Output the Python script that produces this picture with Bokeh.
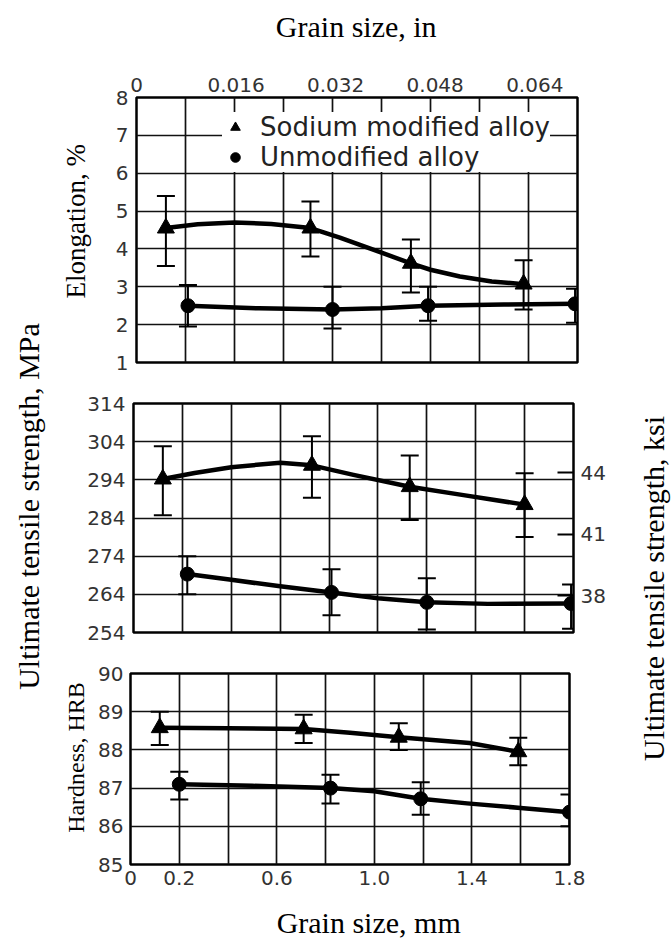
import math
from bokeh.plotting import figure
from bokeh.models import (Range1d, LinearAxis, FixedTicker, Whisker, TeeHead, Grid,
                          ColumnDataSource, Legend, LegendItem, Label)
from bokeh.layouts import row, column
from bokeh.embed import file_html
from bokeh.resources import INLINE

MM_PER_IN = 25.4

# ---------------- axes ----------------
x_range_mm = (0.0, 1.8)
x_grid_mm = [0.0, 0.2, 0.4, 0.6, 0.8, 1.0, 1.2, 1.4, 1.6, 1.8]
x_ticks_mm = [0.0, 0.2, 0.6, 1.0, 1.4, 1.8]
x_labels_mm = ["0", "0.2", "0.6", "1.0", "1.4", "1.8"]
x_ticks_in = [0.0, 0.016, 0.032, 0.048, 0.064]
x_labels_in = ["0", "0.016", "0.032", "0.048", "0.064"]

elong_range = (1, 8)
elong_ticks = [1, 2, 3, 4, 5, 6, 7, 8]
uts_range = (254, 314)
uts_ticks = [254, 264, 274, 284, 294, 304, 314]
ksi_range = (36.2, 47.37)
ksi_ticks = [38, 41, 44]
hrb_range = (85, 90)
hrb_ticks = [85, 86, 87, 88, 89, 90]

series_names = ["Sodium modified alloy", "Unmodified alloy"]

# ---------------- Elongation, % ----------------
el_na_x = [0.12, 0.71, 1.12, 1.58]
el_na_y = [4.55, 4.55, 3.62, 3.07]
el_na_hi = [5.40, 5.25, 4.25, 3.70]
el_na_lo = [3.55, 3.80, 2.85, 2.40]
el_na_fit_x = [0.12, 0.25, 0.40, 0.55, 0.71, 0.83, 1.00, 1.12, 1.20, 1.32, 1.45, 1.58]
el_na_fit_y = [4.55, 4.65, 4.70, 4.66, 4.55, 4.30, 3.90, 3.62, 3.45, 3.27, 3.14, 3.07]

el_un_x = [0.21, 0.80, 1.19, 1.79]
el_un_y = [2.50, 2.40, 2.50, 2.55]
el_un_hi = [3.05, 3.00, 3.00, 2.95]
el_un_lo = [1.95, 1.90, 2.10, 2.05]
el_un_fit_x = [0.21, 0.50, 0.80, 1.00, 1.19, 1.50, 1.79]
el_un_fit_y = [2.50, 2.43, 2.40, 2.43, 2.50, 2.53, 2.55]

# ---------------- Ultimate tensile strength, MPa ----------------
uts_na_x = [0.12, 0.73, 1.13, 1.60]
uts_na_y = [294.2, 297.8, 292.2, 287.5]
uts_na_hi = [302.8, 305.4, 300.4, 295.7]
uts_na_lo = [284.7, 289.3, 283.5, 279.0]
uts_na_fit_x = [0.12, 0.25, 0.40, 0.60, 0.73, 0.90, 1.13, 1.35, 1.60]
uts_na_fit_y = [294.2, 295.8, 297.3, 298.5, 297.8, 295.3, 292.2, 290.0, 287.5]

uts_un_x = [0.22, 0.81, 1.20, 1.79]
uts_un_y = [269.3, 264.5, 261.9, 261.6]
uts_un_hi = [274.0, 270.6, 268.2, 266.6]
uts_un_lo = [264.0, 258.5, 254.8, 255.0]
uts_un_fit_x = [0.22, 0.40, 0.60, 0.81, 1.00, 1.20, 1.45, 1.79]
uts_un_fit_y = [269.3, 267.8, 266.1, 264.5, 263.0, 261.9, 261.5, 261.6]

# ---------------- Hardness, HRB ----------------
hrb_na_x = [0.12, 0.71, 1.10, 1.59]
hrb_na_y = [88.58, 88.55, 88.33, 87.95]
hrb_na_hi = [89.00, 88.92, 88.70, 88.32]
hrb_na_lo = [88.13, 88.18, 88.00, 87.60]
hrb_na_fit_x = [0.12, 0.40, 0.71, 0.90, 1.10, 1.39, 1.59]
hrb_na_fit_y = [88.58, 88.57, 88.55, 88.45, 88.33, 88.18, 87.95]

hrb_un_x = [0.20, 0.82, 1.19, 1.80]
hrb_un_y = [87.10, 87.00, 86.72, 86.37]
hrb_un_hi = [87.43, 87.35, 87.15, 86.83]
hrb_un_lo = [86.70, 86.60, 86.30, 86.00]
hrb_un_fit_x = [0.20, 0.50, 0.82, 1.00, 1.19, 1.38, 1.60, 1.80]
hrb_un_fit_y = [87.10, 87.06, 87.00, 86.92, 86.72, 86.60, 86.48, 86.37]

# ---------------- styling ----------------
SERIF = "Liberation Serif"
SANS = "DejaVu Sans"
TICK_SIZE = "20px"
TICK_COLOR = "#333333"
PAGE_H = 939


def style_axis(ax, standoff, tick_in=0):
    ax.axis_line_color = None
    ax.major_tick_out = 0
    ax.major_tick_in = tick_in
    ax.major_tick_line_color = "black" if tick_in else None
    ax.major_tick_line_width = 2
    ax.minor_tick_line_color = None
    ax.major_label_standoff = standoff
    ax.major_label_text_font = SANS
    ax.major_label_text_font_size = TICK_SIZE
    ax.major_label_text_color = TICK_COLOR


def make_panel(width, height, bl, br, bt, bb, yr, yticks, standoff=8):
    p = figure(width=width, height=height,
               x_range=Range1d(*x_range_mm), y_range=Range1d(*yr),
               x_axis_type=None, y_axis_type=None,
               output_backend="svg", toolbar_location=None,
               min_border_left=bl, min_border_right=br,
               min_border_top=bt, min_border_bottom=bb,
               background_fill_color="white", border_fill_color="white",
               outline_line_color="black", outline_line_width=2.5)
    p.add_layout(Grid(dimension=0, ticker=FixedTicker(ticks=x_grid_mm),
                      grid_line_color="#111111", grid_line_width=1.7))
    p.add_layout(Grid(dimension=1, ticker=FixedTicker(ticks=yticks),
                      grid_line_color="#111111", grid_line_width=1.7))
    ax = LinearAxis(ticker=FixedTicker(ticks=yticks))
    style_axis(ax, standoff)
    p.add_layout(ax, "left")
    return p


def add_series(p, x, y, hi, lo, fx, fy, marker, size):
    p.line(fx, fy, line_width=4.5, line_color="black", line_join="round", line_cap="round")
    src = ColumnDataSource(dict(x=x, y=y, hi=hi, lo=lo))
    w = Whisker(source=src, base="x", upper="hi", lower="lo", dimension="height",
                line_color="black", line_width=2,
                upper_head=TeeHead(size=18, line_width=2, line_color="black"),
                lower_head=TeeHead(size=18, line_width=2, line_color="black"))
    p.add_layout(w)
    return p.scatter("x", "y", source=src, marker=marker, size=size,
                     fill_color="black", line_color="black")


def text_strip(width, height, text, cx, cy, angle, size):
    """A blank figure whose pixel-sized ranges hold one label."""
    f = figure(width=width, height=height, x_range=Range1d(0, width), y_range=Range1d(0, height),
               x_axis_type=None, y_axis_type=None, output_backend="svg", toolbar_location=None,
               min_border=0, outline_line_color=None, background_fill_color="white",
               border_fill_color="white")
    f.add_layout(Label(x=cx, y=cy, text=text, angle=angle,
                       text_align="center", text_baseline="middle", text_font=SERIF,
                       text_font_size=size, text_color="black"))
    return f


# ---------------- top panel: elongation ----------------
p1 = make_panel(518, 330, 41, 36, 45, 20, elong_range, elong_ticks)
p1.extra_x_ranges = {"in": Range1d(x_range_mm[0] / MM_PER_IN, x_range_mm[1] / MM_PER_IN)}
ax_in = LinearAxis(x_range_name="in", ticker=FixedTicker(ticks=x_ticks_in),
                   major_label_overrides=dict(zip(x_ticks_in, x_labels_in)))
style_axis(ax_in, 6)
p1.add_layout(ax_in, "above")
r_na = add_series(p1, el_na_x, el_na_y, el_na_hi, el_na_lo, el_na_fit_x, el_na_fit_y, "triangle", 17)
r_un = add_series(p1, el_un_x, el_un_y, el_un_hi, el_un_lo, el_un_fit_x, el_un_fit_y, "circle", 14)
legend = Legend(items=[LegendItem(label=series_names[0], renderers=[r_na]),
                       LegendItem(label=series_names[1], renderers=[r_un])],
                location=(86, 190), background_fill_color="white", background_fill_alpha=1.0,
                border_line_color=None, label_text_font=SANS, label_text_font_size="26px",
                label_text_color="#222222", glyph_width=26, glyph_height=24, label_height=24,
                padding=6, spacing=0, label_standoff=12, margin=0)
p1.add_layout(legend)

# ---------------- middle panel: UTS ----------------
p2 = make_panel(565, 262, 85, 40, 21, 12, uts_range, uts_ticks)
p2.extra_y_ranges = {"ksi": Range1d(*ksi_range)}
ax_ksi = LinearAxis(y_range_name="ksi", ticker=FixedTicker(ticks=ksi_ticks))
style_axis(ax_ksi, 7, tick_in=16)
p2.add_layout(ax_ksi, "right")
add_series(p2, uts_na_x, uts_na_y, uts_na_hi, uts_na_lo, uts_na_fit_x, uts_na_fit_y, "triangle", 17)
add_series(p2, uts_un_x, uts_un_y, uts_un_hi, uts_un_lo, uts_un_fit_x, uts_un_fit_y, "circle", 14)

# ---------------- bottom panel: hardness ----------------
p3 = make_panel(518, 250, 35, 44, 29, 30, hrb_range, hrb_ticks, standoff=7)
ax_mm = LinearAxis(ticker=FixedTicker(ticks=x_ticks_mm),
                   major_label_overrides=dict(zip(x_ticks_mm, x_labels_mm)))
style_axis(ax_mm, 6)
p3.add_layout(ax_mm, "below")
add_series(p3, hrb_na_x, hrb_na_y, hrb_na_hi, hrb_na_lo, hrb_na_fit_x, hrb_na_fit_y, "triangle", 17)
add_series(p3, hrb_un_x, hrb_un_y, hrb_un_hi, hrb_un_lo, hrb_un_fit_x, hrb_un_fit_y, "circle", 14)

# ---------------- label strips ----------------
top_title = text_strip(565, 52, "Grain size, in", 286, 26, 0, "30px")
bottom_title = text_strip(565, 45, "Grain size, mm", 302, 17, 0, "30px")
elong_lab = text_strip(47, 330, "Elongation, %", 27, 176, math.pi / 2, "27px")
hard_lab = text_strip(47, 250, "Hardness, HRB", 27, 140, math.pi / 2, "24px")
mpa_lab = text_strip(48, PAGE_H, "Ultimate tensile strength, MPa", 28, PAGE_H - 506, math.pi / 2, "30px")
ksi_lab = text_strip(58, PAGE_H, "Ultimate tensile strength, ksi", 40, PAGE_H - 588, math.pi / 2, "30px")

middle = column(top_title, row(elong_lab, p1), p2, row(hard_lab, p3), bottom_title)
layout = row(mpa_lab, middle, ksi_lab)
open("out.html", "w").write(file_html(layout, INLINE, "Grain size"))
